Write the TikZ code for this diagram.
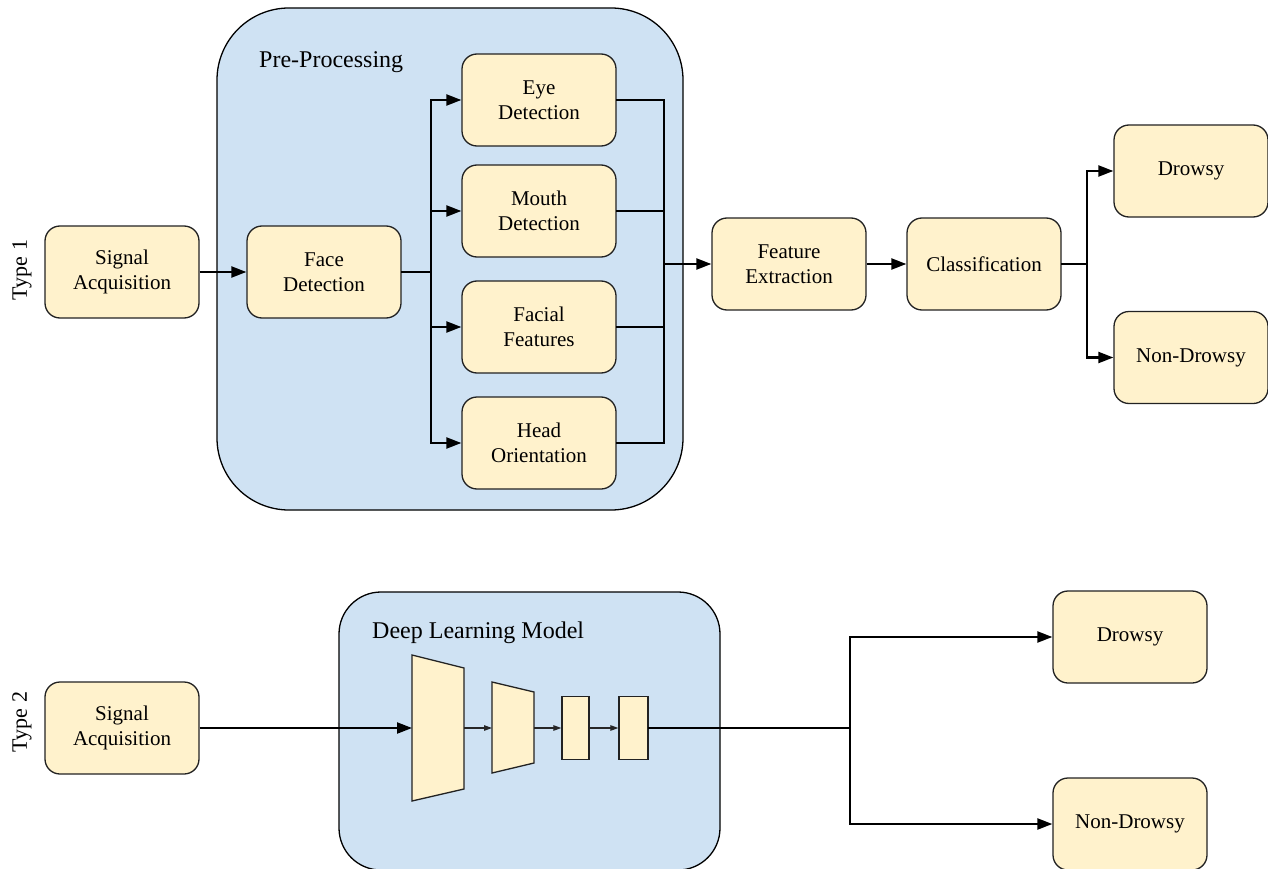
\documentclass[tikz,border=0pt]{standalone}
\usepackage{fontspec}
\setmainfont{Liberation Serif}
\usetikzlibrary{arrows.meta}
\definecolor{boxfill}{HTML}{FFF2CC}
\definecolor{boxline}{HTML}{222222}
\definecolor{grpfill}{HTML}{CFE2F3}
\begin{document}
\begin{tikzpicture}[x=1pt,y=-1pt,
  box/.style={rectangle, rounded corners=15pt, draw=boxline, line width=1.3pt, fill=boxfill,
    minimum width=154pt, minimum height=92pt, align=center, inner sep=0pt,
    font=\fontsize{21}{25}\selectfont, text=black},
  grp/.style={rectangle, draw=black, line width=1.3pt, fill=grpfill, inner sep=0pt},
  grplabel/.style={font=\fontsize{24}{28}\selectfont, anchor=base west, inner sep=0pt, text=black},
  typelabel/.style={rotate=90, font=\fontsize{22}{26}\selectfont, text=black},
  conn/.style={line width=2.2pt, draw=black, line cap=rect},
  arr/.style={line width=2.2pt, draw=black, -{Triangle[length=15pt,width=11pt]}},
  thinarr/.style={line width=1.1pt, draw=black!85, -{Triangle[length=8pt,width=5.5pt]}},
  layer/.style={draw=boxline, line width=1.3pt, fill=boxfill}
]
\useasboundingbox (0,0) rectangle (1268,869);

% ---------- Type 1 ----------
\node[grp, rounded corners=72pt, minimum width=466pt, minimum height=502pt] (pre) at (450,259) {};
\node[grplabel] (prelbl) at (259,68) {Pre-Processing};

\node[typelabel] (type1) at (22,270) {Type 1};

\node[box] (sa1) at (122,272) {Signal\\Acquisition};
\node[box] (fd) at (324,272) {Face\\Detection};
\node[box] (eye) at (539,100) {Eye\\Detection};
\node[box] (mouth) at (539,211) {Mouth\\Detection};
\node[box] (facial) at (539,327) {Facial\\Features};
\node[box] (head) at (539,443) {Head\\Orientation};
\node[box] (fe) at (789,264) {Feature\\Extraction};
\node[box] (cl) at (984,264) {Classification};
\node[box] (dr1) at (1191,171) {Drowsy};
\node[box] (nd1) at (1191,357.5) {Non-Drowsy};

\coordinate (busL) at (431,272);
\coordinate (busR) at (664,264);
\coordinate (fork1) at (1087,264);

\draw[arr] (sa1.east) -- (fd.west);
\draw[conn] (fd.east) -- (busL);
\draw[conn] (busL |- eye.west) -- (busL |- head.west);
\draw[arr] (busL |- eye.west) -- (eye.west);
\draw[arr] (busL |- mouth.west) -- (mouth.west);
\draw[arr] (busL |- facial.west) -- (facial.west);
\draw[arr] (busL |- head.west) -- (head.west);

\draw[conn] (eye.east) -- (busR |- eye.east);
\draw[conn] (mouth.east) -- (busR |- mouth.east);
\draw[conn] (facial.east) -- (busR |- facial.east);
\draw[conn] (head.east) -- (busR |- head.east);
\draw[conn] (busR |- eye.east) -- (busR |- head.east);
\draw[arr] (busR) -- (fe.west);

\draw[arr] (fe.east) -- (cl.west);
\draw[conn] (cl.east) -- (fork1);
\draw[conn] (fork1 |- dr1.west) -- (fork1 |- nd1.west);
\draw[arr] (fork1 |- dr1.west) -- (dr1.west);
\draw[arr] (fork1 |- nd1.west) -- (nd1.west);

% ---------- Type 2 ----------
\node[grp, rounded corners=42pt, minimum width=381pt, minimum height=278pt] (dlm) at (529.5,731) {};
\node[grplabel] (dlmlbl) at (372,638) {Deep Learning Model};

\node[typelabel] (type2) at (22,722) {Type 2};

\node[box] (sa2) at (122,728) {Signal\\Acquisition};
\node[box] (dr2) at (1130,637) {Drowsy};
\node[box] (nd2) at (1130,824) {Non-Drowsy};

\draw[layer] (412,655) -- (464,668) -- (464,789) -- (412,801) -- cycle;
\draw[layer] (492,682) -- (534,692) -- (534,763) -- (492,773) -- cycle;
\node[layer, rectangle, minimum width=27pt, minimum height=63pt, inner sep=0pt] (r3) at (575.5,728) {};
\node[layer, rectangle, minimum width=29pt, minimum height=63pt, inner sep=0pt] (r4) at (633.5,728) {};

\coordinate (t1in) at (412,728);
\coordinate (t1out) at (464,728);
\coordinate (t2in) at (492,728);
\coordinate (t2out) at (534,728);
\coordinate (fork2) at (850,728);

\draw[arr] (sa2.east) -- (t1in);
\draw[thinarr] (t1out) -- (t2in);
\draw[thinarr] (t2out) -- (r3.west);
\draw[thinarr] (r3.east) -- (r4.west);
\draw[conn] (r4.east) -- (fork2);
\draw[conn] (fork2 |- dr2.west) -- (fork2 |- nd2.west);
\draw[arr] (fork2 |- dr2.west) -- (dr2.west);
\draw[arr] (fork2 |- nd2.west) -- (nd2.west);
\end{tikzpicture}
\end{document}
